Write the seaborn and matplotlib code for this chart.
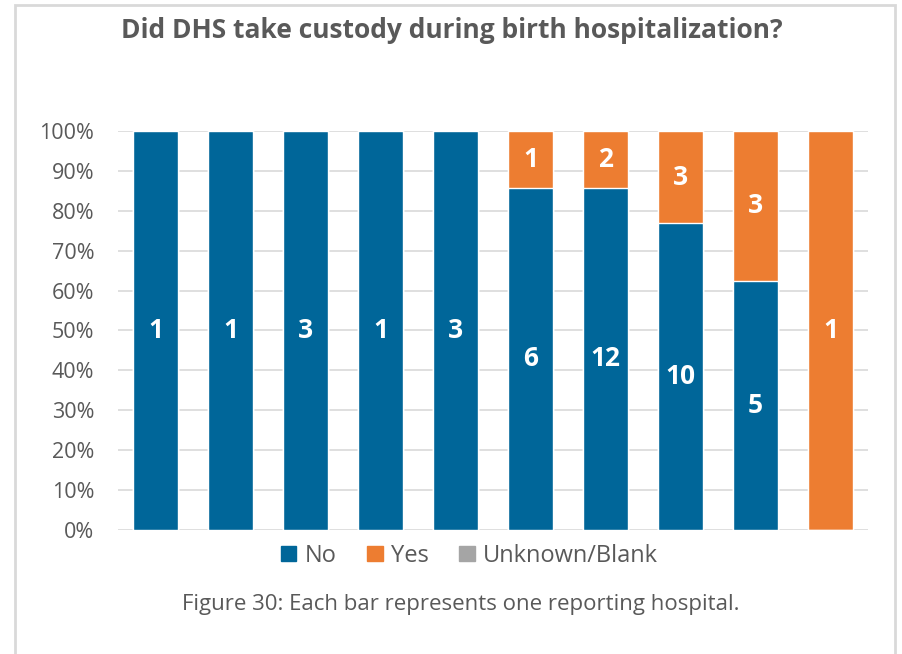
import pandas as pd
import matplotlib.pyplot as plt
import numpy as np
import seaborn as sns
from matplotlib.patches import Rectangle, Patch

hospitals = ["H1", "H2", "H3", "H4", "H5", "H6", "H7", "H8", "H9", "H10"]
no_counts = [1, 1, 3, 1, 3, 6, 12, 10, 5, 0]
yes_counts = [0, 0, 0, 0, 0, 1, 2, 3, 3, 1]
unknown_counts = [0, 0, 0, 0, 0, 0, 0, 0, 0, 0]

df = pd.DataFrame({"hospital": hospitals, "No": no_counts, "Yes": yes_counts,
                   "Unknown/Blank": unknown_counts})
total = df["No"] + df["Yes"] + df["Unknown/Blank"]
df["no_pct"] = df["No"] / total * 100
df["yes_top"] = (df["No"] + df["Yes"]) / total * 100
df["unk_top"] = total / total * 100

blue = "#006699"
orange = "#ED7D31"
gray = "#A5A5A5"
txt = "#595959"

sns.set_style("white")
plt.rcParams["font.family"] = ["Open Sans", "DejaVu Sans"]

fig = plt.figure(figsize=(9.03, 6.54), dpi=100)
ax = fig.add_axes([0.1307, 0.1896, 0.8305, 0.6101])

# stacked by overlaying cumulative heights
sns.barplot(data=df, x="hospital", y="unk_top", color=gray, width=0.59, ax=ax, saturation=1, zorder=2)
sns.barplot(data=df, x="hospital", y="yes_top", color=orange, width=0.59, ax=ax, saturation=1, zorder=3)
sns.barplot(data=df, x="hospital", y="no_pct", color=blue, width=0.59, ax=ax, saturation=1, zorder=4)

for i, row in df.iterrows():
    if row["No"] > 0:
        ax.text(i, row["no_pct"] / 2, str(row["No"]), color="white", fontsize=19,
                fontweight="bold", ha="center", va="center", zorder=5)
    if row["Yes"] > 0:
        ax.text(i, (row["no_pct"] + row["yes_top"]) / 2, str(row["Yes"]), color="white",
                fontsize=19, fontweight="bold", ha="center", va="center", zorder=5)

ax.set_ylim(0, 100)
ax.set_xlim(-0.5, len(hospitals) - 0.5)
ax.set_yticks(np.arange(0, 101, 10))
ax.set_yticklabels([f"{v}%" for v in range(0, 101, 10)], fontsize=15.5, color=txt)
ax.set_xticks([])
ax.set_xlabel("")
ax.set_ylabel("")
ax.tick_params(axis="y", length=0, pad=17)
for s in ax.spines.values():
    s.set_visible(False)
ax.grid(axis="y", color="#D9D9D9", linewidth=1.2, zorder=0)
ax.set_axisbelow(True)

fig.text(0.5, 0.953, "Did DHS take custody during birth hospitalization?", ha="center",
         va="center", fontsize=19, fontweight="bold", color=txt)

handles = [Patch(color=blue, label="No"), Patch(color=orange, label="Yes"),
           Patch(color=gray, label="Unknown/Blank")]
fig.legend(handles=handles, loc="center", bbox_to_anchor=(0.52, 0.150), ncol=3, frameon=False,
           fontsize=17, labelcolor=txt, handlelength=0.65, handleheight=0.65,
           handletextpad=0.35, columnspacing=1.3)

fig.text(0.51, 0.075, "Figure 30: Each bar represents one reporting hospital.", ha="center",
         va="center", fontsize=16, color=txt)

fig.patches.append(Rectangle((0.0166, -0.02), 0.9745, 1.012, transform=fig.transFigure,
                             fill=False, edgecolor="#D9D9D9", linewidth=2))

fig.savefig("out.png", dpi=100)
